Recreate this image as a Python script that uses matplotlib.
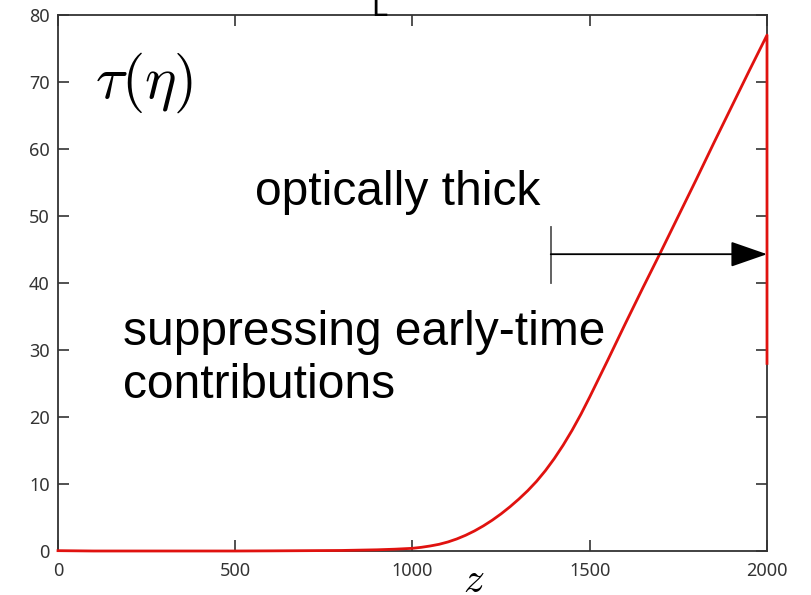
import matplotlib
matplotlib.use("Agg")
import matplotlib.pyplot as plt

plt.rcParams['mathtext.fontset'] = 'cm'

# data
z = [0, 100, 200, 300, 400, 500, 600, 700, 800, 900, 950, 1000, 1025, 1050,
     1075, 1100, 1125, 1150, 1175, 1200, 1225, 1250, 1275, 1300, 1325, 1350,
     1375, 1400, 1425, 1450, 1475, 1500, 1550, 1600, 1650, 1700, 1750,
     1800, 1850, 1900, 1950, 2000, 2000]
tau = [0.05, 0.0, 0.0, 0.0, 0.0, 0.0, 0.02, 0.05, 0.08, 0.18, 0.27, 0.4, 0.55,
       0.75, 1.0, 1.35, 1.8, 2.35, 3.0, 3.75, 4.6, 5.55, 6.6, 7.75, 9.0, 10.4,
       12.0, 13.8, 15.8, 18.0, 20.4, 23.0, 28.4, 33.9, 39.3, 44.6, 50.0,
       55.4, 60.9, 66.3, 71.7, 77.0, 28.0]

xticks = [0, 500, 1000, 1500, 2000]
yticks = [0, 10, 20, 30, 40, 50, 60, 70, 80]

arrow_start = 1390
arrow_end = 2000
arrow_y = 44.3
bar_lo, bar_hi = 40.0, 48.4

fig = plt.figure(figsize=(8.12, 5.95), dpi=100)
ax = fig.add_axes([58/812, 44/595, 709/812, 536/595])

ax.plot(z, tau, color='#e0120f', lw=2.0, solid_joinstyle='round', clip_on=False, zorder=3)

ax.set_xlim(0, 2000)
ax.set_ylim(0, 80)
ax.set_xticks(xticks)
ax.set_yticks(yticks)

tick_font = dict(family=['Noto Sans', 'DejaVu Sans'], size=13)
ax.set_xticklabels([str(v) for v in xticks], **tick_font, color='#333333')
ax.set_yticklabels([str(v) for v in yticks], **tick_font, color='#333333')
ax.tick_params(direction='in', length=8, width=1.2, color='#333333',
               top=True, right=True, pad=6)
ax.tick_params(axis='x', pad=8)
for s in ax.spines.values():
    s.set_color('#333333')
    s.set_linewidth(1.3)

# arrow
ax.plot([arrow_start, arrow_start], [bar_lo, bar_hi], color='#555555', lw=1.3)
ax.annotate('', xy=(arrow_end, arrow_y), xytext=(arrow_start, arrow_y),
            arrowprops=dict(arrowstyle='-|>,head_length=2.3,head_width=0.8',
                            color='#555555', lw=1.3, fc='black', ec='black',
                            shrinkA=0, shrinkB=0))

txt_font = ['Liberation Sans', 'DejaVu Sans']
fig.text(255/812, 1 - 205/595, 'optically thick',
         fontsize=34.5, family=txt_font, color='black', va='baseline')
fig.text(123/812, 1 - 345/595, 'suppressing early-time',
         fontsize=34.5, family=txt_font, color='black', va='baseline')
fig.text(123/812, 1 - 398/595, 'contributions',
         fontsize=34.5, family=txt_font, color='black', va='baseline')

fig.text(95/812, 1 - 98/595, r'$\tau(\eta)$', fontsize=43, color='black',
         va='baseline')
fig.text(463/812, 1 - 592/595, r'$z$', fontsize=30, color='black')

fig.text(371/812, 1 - 16/595, 'L', fontsize=20, color='black',
         family=['DejaVu Sans'])

fig.savefig('out.png', dpi=100)
